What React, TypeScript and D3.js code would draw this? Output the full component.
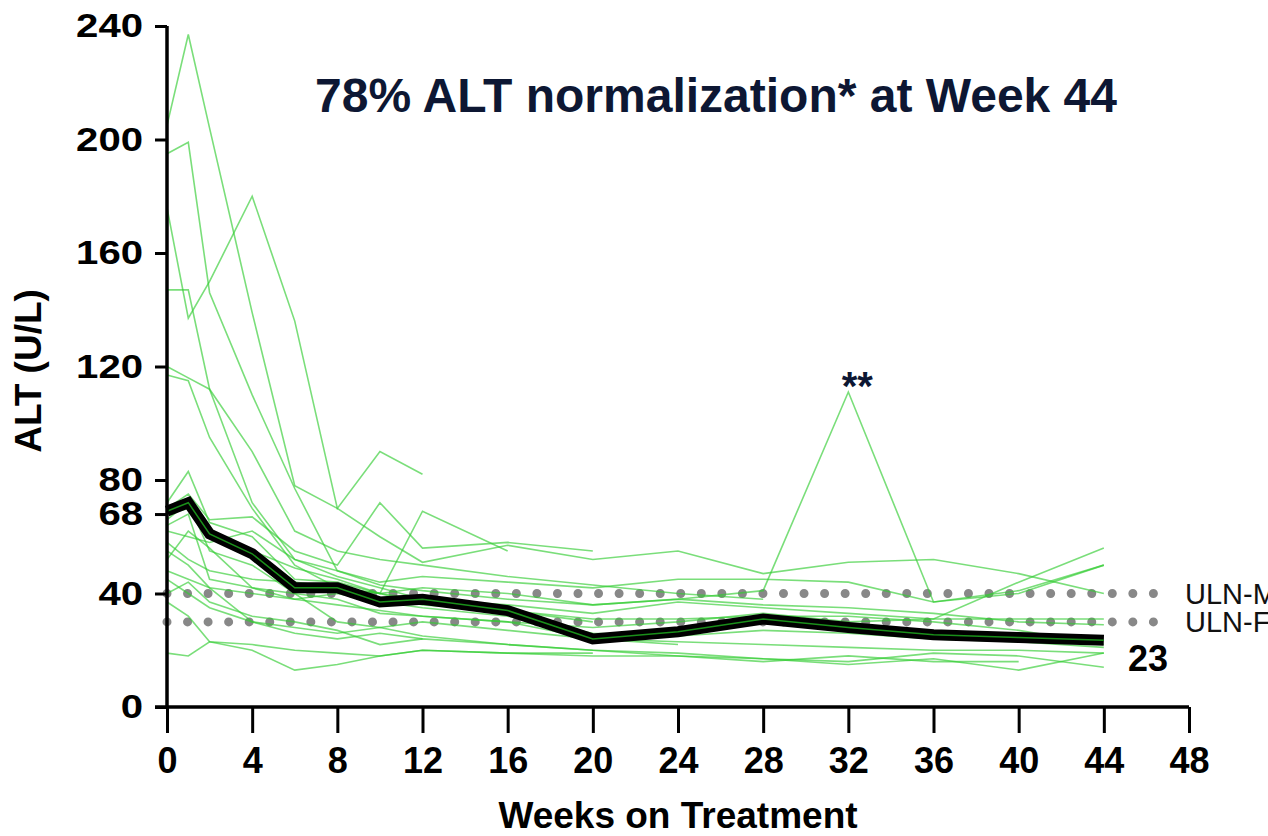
import { useRef, useEffect } from "react";
import * as d3 from "d3";

// visit weeks
const weeks = [0, 1, 2, 4, 6, 8, 10, 12, 16, 20, 24, 28, 32, 36, 40, 44];

// individual patient ALT (U/L), null = no visit
const patients: (number | null)[][] = [
  [205, 237, 204, 139, 78, 70, 60, 51, 57, 52, 55, 47, 51, 52, 47, 40],
  [195, 199, 146, 110, 77, 48, 43, 41, 38, 36, 38, 41, 111, 37, 40, 50],
  [176, 137, 150, 180, 136, 70, 90, 82, null, null, null, null, null, null, null, null],
  [147, 147, 112, 72, 52, 46, 42, 38, 34, 30, null, null, null, null, null, null],
  [120, 116, 112, 90, 62, 55, 52, 50, 46, 43, 40, 38, null, null, null, null],
  [117, 115, 95, 70, 50, 42, 40, 38, 36, 33, 37, 35, 33, 31, 44, 56],
  [72, 83, 65, 60, 45, 44, 40, 69, 55, null, null, null, null, null, null, null],
  [70, 75, 66, 67, 55, 50, 72, 56, 58, 55, null, null, null, null, null, null],
  [68, 70, 62, 55, 49, 45, 40, 42, 40, 36, 38, 36, 35, 33, 30, 29],
  [66, 72, 55, 50, 40, 38, 33, 32, 30, 28, 30, 33, 30, 31, 31, 31],
  [62, 60, 58, 62, 52, 48, 44, 46, 44, 42, 45, 45, 44, 37, 41, 50],
  [58, 52, 48, 45, 44, 42, 40, 36, 34, 31, 31, 32, 32, 30, 27, 22],
  [52, 62, 56, 42, 38, 40, 37, 35, 32, 26, 25, 27, 26, 24, 23, 21],
  [48, 45, 42, 40, 38, 36, 34, 32, 30, 24, 23, 22, 21, 20, 20, 19],
  [45, 40, 35, 30, 28, 26, 28, 30, 27, 24, 22, null, null, null, null, null],
  [40, 44, 37, 32, 30, 27, 22, 24, 22, 20, 19, 17, 16, 19, 18, 14],
  [37, 32, 23, 22, 20, 19, 18, 20, 19, 18, 18, 17, 15, 17, 13, 19],
  [19, 18, 23, 20, 13, 15, 18, 20, 19, 19, null, null, null, null, null, null],
  [64, 68, 45, 42, 40, 30, 28, 25, 22, 20, 18, 16, 18, 16, 16, null],
  [55, 50, 42, 30, 26, 24, 26, 24, null, null, null, null, null, null, null, null],
];

// mean ALT
const meanAlt = [69, 72, 61, 54, 42, 42, 37, 38, 34, 24, 26.5, 31, 28, 25.5, 24.5, 23.5];

const yTicks = [0, 40, 68, 80, 120, 160, 200, 240];
const xTicks = [0, 4, 8, 12, 16, 20, 24, 28, 32, 36, 40, 44, 48];

const ulnLines = [
  { label: "ULN-M", value: 40 },
  { label: "ULN-F", value: 30 },
];

const App = () => {
  const svgRef = useRef<SVGSVGElement>(null);

  useEffect(() => {
    const svg = d3.select(svgRef.current);
    svg.selectAll("*").remove();

    const font = "'Liberation Sans', Arial, sans-serif";
    const x = d3.scaleLinear().domain([0, 48]).range([167, 1189]);
    const y = d3.scaleLinear().domain([0, 240]).range([707, 26]);

    // dotted ULN reference lines
    ulnLines.forEach((u) => {
      svg
        .append("line")
        .attr("x1", x(0))
        .attr("x2", 1172)
        .attr("y1", y(u.value))
        .attr("y2", y(u.value))
        .attr("stroke", "#888")
        .attr("stroke-width", 9)
        .attr("stroke-linecap", "round")
        .attr("stroke-dasharray", "0 20.55");
      svg
        .append("text")
        .attr("x", 1185)
        .attr("y", y(u.value))
        .attr("dy", "0.36em")
        .attr("font-family", font)
        .attr("font-size", 29)
        .attr("fill", "#111")
        .text(u.label);
    });

    const line = d3
      .line<number | null>()
      .defined((d) => d != null)
      .x((_, i) => x(weeks[i]))
      .y((d) => y(d as number));

    // patient lines
    svg
      .append("g")
      .selectAll("path")
      .data(patients)
      .join("path")
      .attr("d", line)
      .attr("fill", "none")
      .attr("stroke", "#33cc33")
      .attr("stroke-opacity", 0.65)
      .attr("stroke-width", 1.6);

    // mean line
    svg
      .append("path")
      .datum(meanAlt)
      .attr("d", line)
      .attr("fill", "none")
      .attr("stroke", "#000")
      .attr("stroke-width", 11);
    svg
      .append("path")
      .datum(meanAlt)
      .attr("d", line)
      .attr("fill", "none")
      .attr("stroke", "#1a8f1a")
      .attr("stroke-width", 1.5);

    // axes
    const yAxis = svg
      .append("g")
      .attr("transform", `translate(${x(0)},0)`)
      .call(d3.axisLeft(y).tickValues(yTicks).tickSize(12).tickPadding(0).tickFormat(d3.format("d")));
    const xAxis = svg
      .append("g")
      .attr("transform", `translate(0,${y(0)})`)
      .call(d3.axisBottom(x).tickValues(xTicks).tickSize(26).tickPadding(14).tickFormat(d3.format("d")));

    [yAxis, xAxis].forEach((g) => {
      g.select(".domain").remove();
      g.selectAll(".tick line").attr("stroke", "#000").attr("stroke-width", 3);
      g.selectAll(".tick text")
        .attr("font-family", font)
        .attr("font-weight", "bold")
        .attr("fill", "#000");
    });
    xAxis.selectAll(".tick text").attr("font-size", 36);
    // y labels in the reference are a bit wider than plain bold
    yAxis.selectAll(".tick text")
      .attr("font-size", 34)
      .attr("x", 0)
      .attr("transform", "translate(-24,0) scale(1.18,1)");

    svg.append("line").attr("x1", x(0)).attr("x2", x(0)).attr("y1", y(240)).attr("y2", y(0))
      .attr("stroke", "#000").attr("stroke-width", 3.5);
    svg.append("line").attr("x1", 155).attr("x2", x(48)).attr("y1", y(0)).attr("y2", y(0))
      .attr("stroke", "#000").attr("stroke-width", 3.5);

    // axis titles
    svg.append("text")
      .attr("x", 678)
      .attr("y", 828)
      .attr("text-anchor", "middle")
      .attr("font-family", font)
      .attr("font-weight", "bold")
      .attr("font-size", 37)
      .text("Weeks on Treatment");
    svg.append("text")
      .attr("transform", "translate(41,371) rotate(-90)")
      .attr("text-anchor", "middle")
      .attr("font-family", font)
      .attr("font-weight", "bold")
      .attr("font-size", 37)
      .text("ALT (U/L)");

    // title and annotations
    svg.append("text")
      .attr("x", 716)
      .attr("y", 112)
      .attr("text-anchor", "middle")
      .attr("font-family", font)
      .attr("font-weight", "bold")
      .attr("font-size", 48)
      .attr("fill", "#0d1733")
      .text("78% ALT normalization* at Week 44");
    svg.append("text")
      .attr("x", x(32) + 9)
      .attr("y", y(111) + 8)
      .attr("text-anchor", "middle")
      .attr("font-family", font)
      .attr("font-weight", "bold")
      .attr("font-size", 40)
      .attr("fill", "#0d1733")
      .text("**");
    svg.append("text")
      .attr("x", 1148)
      .attr("y", y(23) + 29)
      .attr("text-anchor", "middle")
      .attr("font-family", font)
      .attr("font-weight", "bold")
      .attr("font-size", 36)
      .attr("fill", "#000")
      .text("23");
  }, []);

  return (
    <svg
      ref={svgRef}
      width={1268}
      height={836}
      style={{ position: "absolute", left: 0, top: 0, background: "#fff" }}
    ></svg>
  );
};

export default App;
